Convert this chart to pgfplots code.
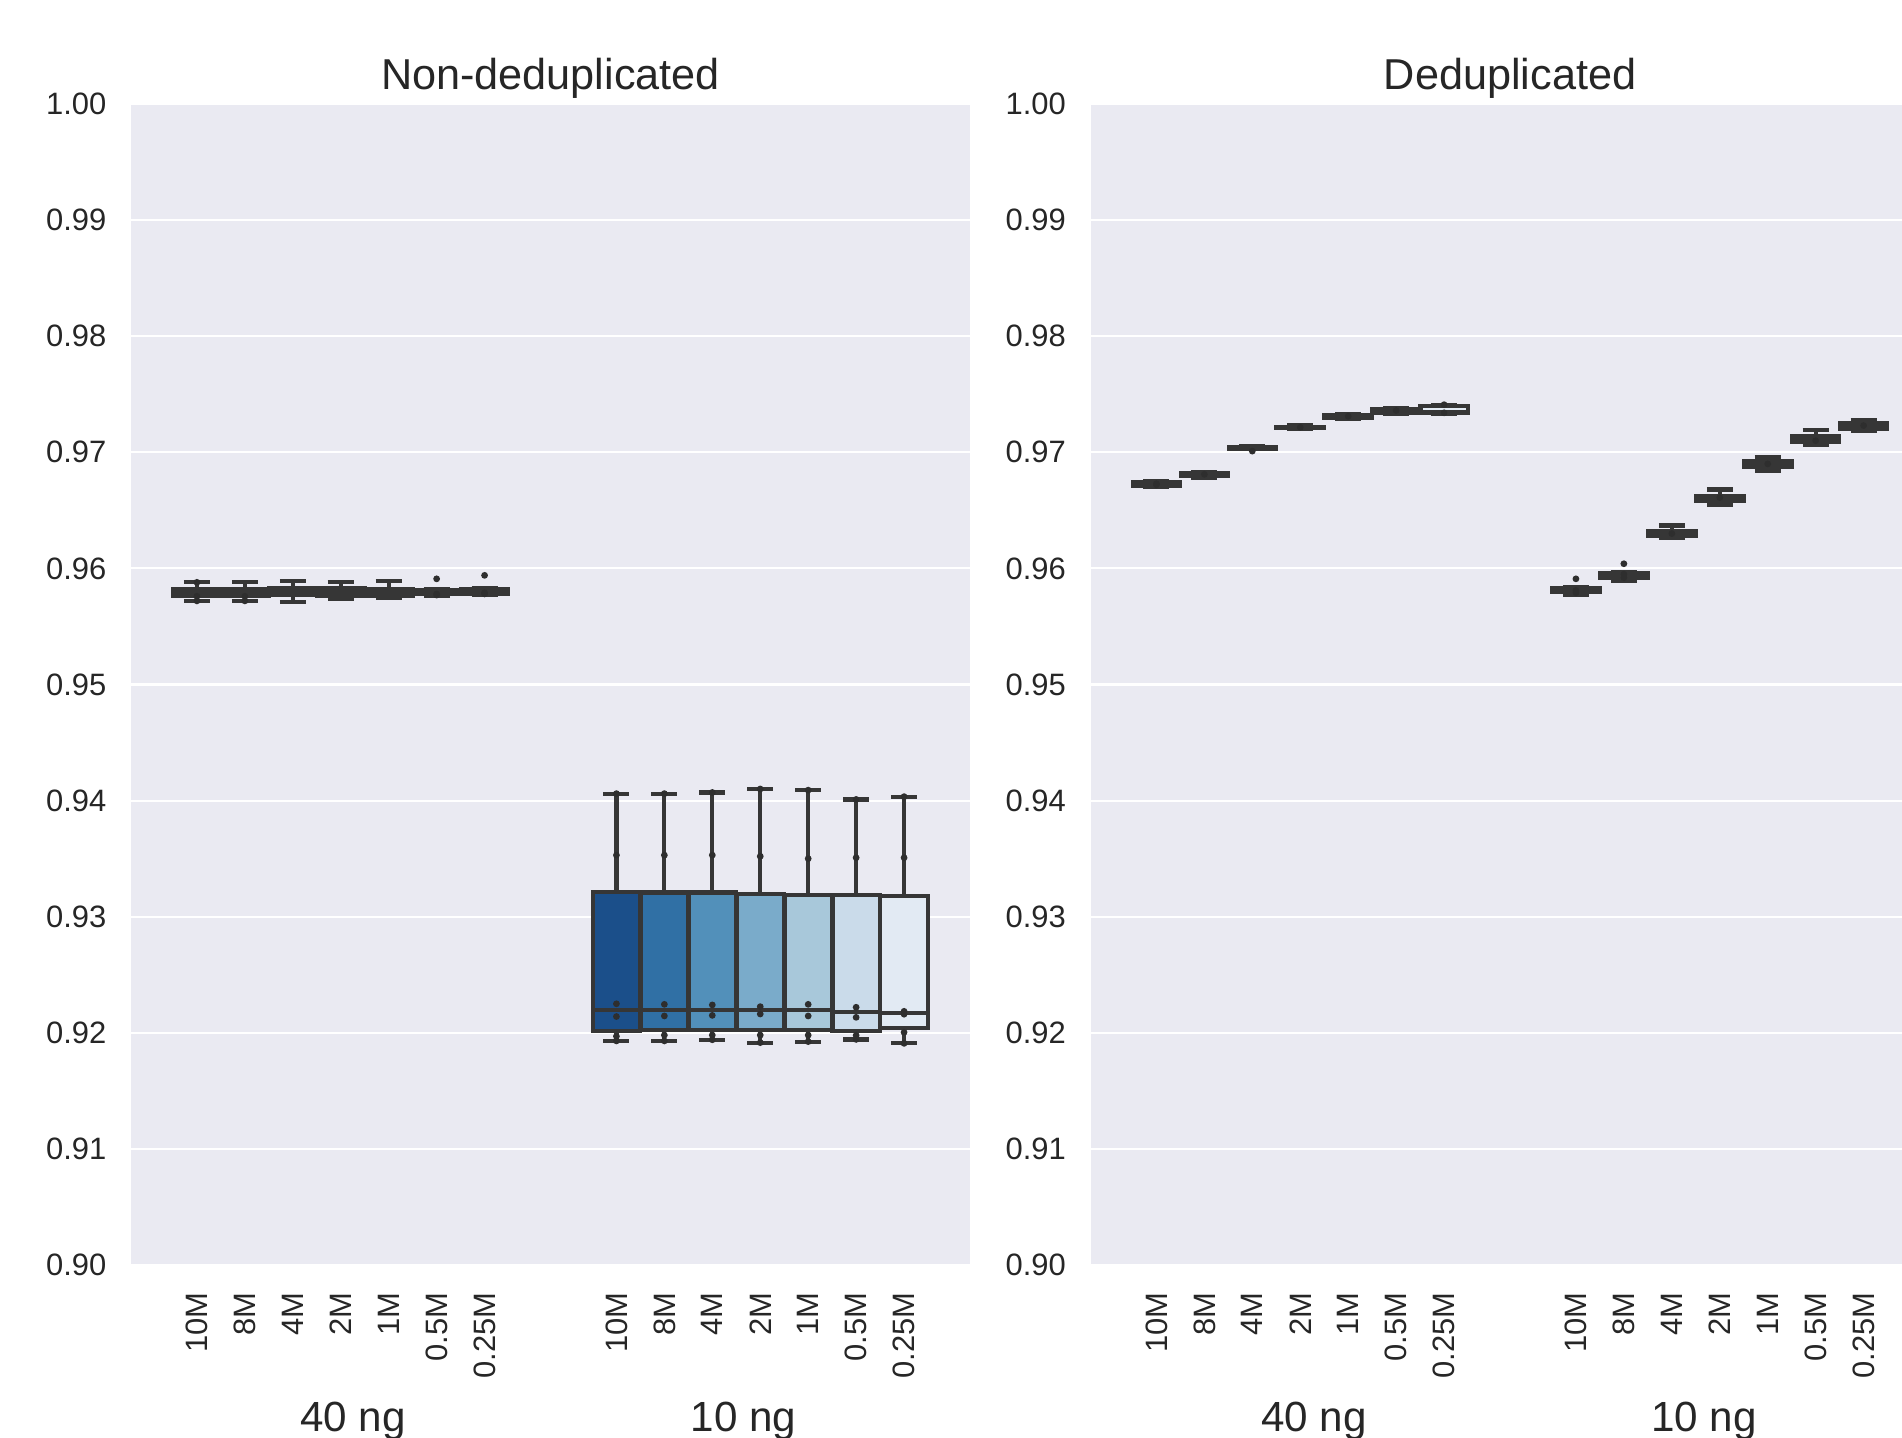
\documentclass[border=0pt]{standalone}
\usepackage{pgfplots}
\pgfplotsset{compat=1.18}
\usepackage{fontspec}
\setmainfont{Liberation Sans}
\definecolor{bgc}{HTML}{EAEAF2}
\definecolor{tc}{HTML}{262626}
\definecolor{edge}{HTML}{363636}
\definecolor{dotc}{HTML}{2E2E2E}
\definecolor{b1}{HTML}{1B4F8A}
\definecolor{b2}{HTML}{3070A5}
\definecolor{b3}{HTML}{5290BA}
\definecolor{b4}{HTML}{7AABCA}
\definecolor{b5}{HTML}{A8C8DA}
\definecolor{b6}{HTML}{CADBEA}
\definecolor{b7}{HTML}{E2EAF3}
\pgfplotsset{
  myax/.style={
    anchor=south west, width=8.39cm, height=11.61cm, scale only axis,
    xmin=-0.5, xmax=1.5, ymin=0.9, ymax=1.0,
    axis background/.style={fill=bgc},
    axis line style={draw=none},
    ymajorgrids, major grid style={white, line width=0.6pt},
    major tick length=0pt,
    ytick={0.90,0.91,0.92,0.93,0.94,0.95,0.96,0.97,0.98,0.99,1.00},
    yticklabel style={/pgf/number format/fixed, /pgf/number format/fixed zerofill, /pgf/number format/precision=2, /pgf/number format/assume math mode=true, font=\fontsize{8.8}{10}\selectfont, text=tc, inner sep=0pt, anchor=east, xshift=-0.24cm},
    xtick={-0.34286,-0.22857,-0.11429,0,0.11429,0.22857,0.34286,0.65714,0.77143,0.88571,1,1.11429,1.22857,1.34286},
    xticklabels={10M,8M,4M,2M,1M,0.5M,0.25M,10M,8M,4M,2M,1M,0.5M,0.25M},
    x tick label style={font=\fontsize{8.8}{10}\selectfont, text=tc, inner sep=0pt, yshift=-0.27cm, rotate=90, anchor=east},
    clip=false,
  },
  ln/.style={draw=edge, line width=1.2pt, mark=none},
  dots/.style={only marks, mark=*, mark size=0.75pt, color=dotc},
}
% whiskers and caps: x, cap left, cap right, lower whisker, q1, q3, upper whisker
\newcommand{\bwh}[7]{\addplot[ln, unbounded coords=jump] coordinates {(#1,#4) (#1,#5) (#1,nan) (#1,#6) (#1,#7) (#1,nan) (#2,#4) (#3,#4) (#1,nan) (#2,#7) (#3,#7)};}
% box and median: left, right, q1, median, q3, colour
\newcommand{\bbox}[6]{\addplot[ln, fill=#6, line join=miter, line cap=rect] coordinates {(#1,#3) (#2,#3) (#2,#5) (#1,#5) (#1,#3)};
\addplot[ln] coordinates {(#1,#4) (#2,#4)};}
\begin{document}
\begin{tikzpicture}
\useasboundingbox (0,0) rectangle (19.02cm,14.38cm);
% ---------------- Non-deduplicated ----------------
\begin{axis}[myax, at={(1.31cm,1.73cm)}]
% 40 ng
\bwh{-0.34286}{-0.37386}{-0.31186}{0.9572}{0.9576}{0.9582}{0.9588}
\bbox{-0.39936}{-0.28636}{0.9576}{0.9580}{0.9582}{b1}
\bwh{-0.22857}{-0.25957}{-0.19757}{0.9572}{0.9576}{0.9582}{0.9588}
\bbox{-0.28507}{-0.17207}{0.9576}{0.9580}{0.9582}{b2}
\bwh{-0.11429}{-0.14529}{-0.08329}{0.9571}{0.9577}{0.9583}{0.9589}
\bbox{-0.17079}{-0.05779}{0.9577}{0.9581}{0.9583}{b3}
\bwh{0}{-0.031}{0.031}{0.9574}{0.9576}{0.9583}{0.9588}
\bbox{-0.0565}{0.0565}{0.9576}{0.9580}{0.9583}{b4}
\bwh{0.11429}{0.08329}{0.14529}{0.9575}{0.9576}{0.9582}{0.9589}
\bbox{0.05779}{0.17079}{0.9576}{0.9580}{0.9582}{b5}
\bwh{0.22857}{0.19757}{0.25957}{0.9576}{0.9578}{0.9581}{0.9582}
\bbox{0.17207}{0.28507}{0.9578}{0.9579}{0.9581}{b6}
\bwh{0.34286}{0.31186}{0.37386}{0.9577}{0.9578}{0.9582}{0.9583}
\bbox{0.28636}{0.39936}{0.9578}{0.9580}{0.9582}{b7}
% 10 ng
\bwh{0.65714}{0.62614}{0.68814}{0.9193}{0.92013}{0.9321}{0.9406}
\bbox{0.60064}{0.71364}{0.92013}{0.92195}{0.9321}{b1}
\bwh{0.77143}{0.74043}{0.80243}{0.9193}{0.92021}{0.93209}{0.9406}
\bbox{0.71493}{0.82793}{0.92021}{0.92195}{0.93209}{b2}
\bwh{0.88571}{0.85471}{0.91671}{0.9194}{0.92023}{0.93208}{0.9407}
\bbox{0.82921}{0.94221}{0.92023}{0.92195}{0.93208}{b3}
\bwh{1}{0.969}{1.031}{0.91915}{0.92026}{0.93196}{0.9410}
\bbox{0.9435}{1.0565}{0.92026}{0.92194}{0.93196}{b4}
\bwh{1.11429}{1.08329}{1.14529}{0.91924}{0.92021}{0.93186}{0.9409}
\bbox{1.05779}{1.17079}{0.92021}{0.92195}{0.93186}{b5}
\bwh{1.22857}{1.19757}{1.25957}{0.91943}{0.92017}{0.93186}{0.9401}
\bbox{1.17207}{1.28507}{0.92017}{0.92177}{0.93186}{b6}
\bwh{1.34286}{1.31186}{1.37386}{0.91909}{0.92043}{0.93177}{0.94034}
\bbox{1.28636}{1.39936}{0.92043}{0.92173}{0.93177}{b7}
\addplot[dots] coordinates {
(-0.34286,0.9572) (-0.34286,0.9576) (-0.34286,0.9588)
(-0.22857,0.9576) (-0.22857,0.9572)
(0.22857,0.9591) (0.22857,0.9578) (0.22857,0.9577)
(0.34286,0.9594) (0.34286,0.9579) (0.34286,0.9578)
(0.65714,0.9193) (0.65714,0.9197) (0.65714,0.9214) (0.65714,0.9225) (0.65714,0.9353) (0.65714,0.9406)
(0.77143,0.9193) (0.77143,0.9198) (0.77143,0.92145) (0.77143,0.92245) (0.77143,0.9353) (0.77143,0.9406)
(0.88571,0.9194) (0.88571,0.9198) (0.88571,0.9215) (0.88571,0.9224) (0.88571,0.9353) (0.88571,0.9407)
(1,0.91915) (1,0.9198) (1,0.92162) (1,0.92225) (1,0.9352) (1,0.9410)
(1.11429,0.91924) (1.11429,0.9198) (1.11429,0.92145) (1.11429,0.92245) (1.11429,0.9350) (1.11429,0.9409)
(1.22857,0.91943) (1.22857,0.91978) (1.22857,0.92133) (1.22857,0.9222) (1.22857,0.93508) (1.22857,0.9401)
(1.34286,0.91909) (1.34286,0.92004) (1.34286,0.9216) (1.34286,0.92185) (1.34286,0.93508) (1.34286,0.94034)
};
\node[anchor=base, text=tc, font=\fontsize{12.3}{14}\selectfont, yshift=0.14cm] at (rel axis cs:0.5,1) {Non-deduplicated};
\node[anchor=base, text=tc, font=\fontsize{12}{14}\selectfont, yshift=-1.67cm] at (axis cs:0.029,0.9) {40 ng};
\node[anchor=base, text=tc, font=\fontsize{12}{14}\selectfont, yshift=-1.67cm] at (axis cs:0.96,0.9) {10 ng};
\end{axis}
% ---------------- Deduplicated ----------------
\begin{axis}[myax, at={(10.905cm,1.73cm)}]
% 40 ng
\bwh{-0.34286}{-0.37386}{-0.31186}{0.9670}{0.9671}{0.9674}{0.9675}
\bbox{-0.39936}{-0.28636}{0.9671}{0.9673}{0.9674}{b1}
\bwh{-0.22857}{-0.25957}{-0.19757}{0.9678}{0.9680}{0.9682}{0.9683}
\bbox{-0.28507}{-0.17207}{0.9680}{0.9681}{0.9682}{b2}
\bwh{-0.11429}{-0.14529}{-0.08329}{0.97025}{0.9703}{0.97045}{0.9705}
\bbox{-0.17079}{-0.05779}{0.9703}{0.9704}{0.97045}{b3}
\bwh{0}{-0.031}{0.031}{0.9720}{0.9721}{0.9722}{0.9723}
\bbox{-0.0565}{0.0565}{0.9721}{0.97215}{0.9722}{b4}
\bwh{0.11429}{0.08329}{0.14529}{0.9729}{0.9730}{0.9732}{0.9733}
\bbox{0.05779}{0.17079}{0.9730}{0.9731}{0.9732}{b5}
\bwh{0.22857}{0.19757}{0.25957}{0.9733}{0.9734}{0.9737}{0.9738}
\bbox{0.17207}{0.28507}{0.9734}{0.9736}{0.9737}{b6}
\bwh{0.34286}{0.31186}{0.37386}{0.9733}{0.9734}{0.9740}{0.9741}
\bbox{0.28636}{0.39936}{0.9734}{0.9735}{0.9740}{b7}
% 10 ng
\bwh{0.65714}{0.62614}{0.68814}{0.9577}{0.9580}{0.9583}{0.9584}
\bbox{0.60064}{0.71364}{0.9580}{0.9582}{0.9583}{b1}
\bwh{0.77143}{0.74043}{0.80243}{0.9589}{0.9592}{0.9596}{0.9597}
\bbox{0.71493}{0.82793}{0.9592}{0.9594}{0.9596}{b2}
\bwh{0.88571}{0.85471}{0.91671}{0.9626}{0.9628}{0.9632}{0.9637}
\bbox{0.82921}{0.94221}{0.9628}{0.9630}{0.9632}{b3}
\bwh{1}{0.969}{1.031}{0.9655}{0.9658}{0.9662}{0.9668}
\bbox{0.9435}{1.0565}{0.9658}{0.9660}{0.9662}{b4}
\bwh{1.11429}{1.08329}{1.14529}{0.9684}{0.9687}{0.9692}{0.9696}
\bbox{1.05779}{1.17079}{0.9687}{0.9690}{0.9692}{b5}
\bwh{1.22857}{1.19757}{1.25957}{0.9706}{0.9709}{0.9714}{0.9719}
\bbox{1.17207}{1.28507}{0.9709}{0.9711}{0.9714}{b6}
\bwh{1.34286}{1.31186}{1.37386}{0.9718}{0.9720}{0.9725}{0.9728}
\bbox{1.28636}{1.39936}{0.9720}{0.9723}{0.9725}{b7}
\addplot[dots] coordinates {
(-0.34286,0.9672) (-0.34286,0.9673) (-0.22857,0.9681)
(-0.11429,0.9701) (0,0.97215) (0.11429,0.9731) (0.22857,0.9736)
(0.34286,0.9741) (0.34286,0.9734)
(0.65714,0.9591) (0.65714,0.9581) (0.65714,0.9579)
(0.77143,0.9604) (0.77143,0.9595) (0.77143,0.9592)
(0.88571,0.9630) (1,0.9661) (1.11429,0.9690) (1.22857,0.9710) (1.34286,0.9723)
};
\node[anchor=base, text=tc, font=\fontsize{12.3}{14}\selectfont, yshift=0.14cm] at (rel axis cs:0.5,1) {Deduplicated};
\node[anchor=base, text=tc, font=\fontsize{12}{14}\selectfont, yshift=-1.67cm] at (axis cs:0.0325,0.9) {40 ng};
\node[anchor=base, text=tc, font=\fontsize{12}{14}\selectfont, yshift=-1.67cm] at (axis cs:0.962,0.9) {10 ng};
\end{axis}
\end{tikzpicture}
\end{document}
